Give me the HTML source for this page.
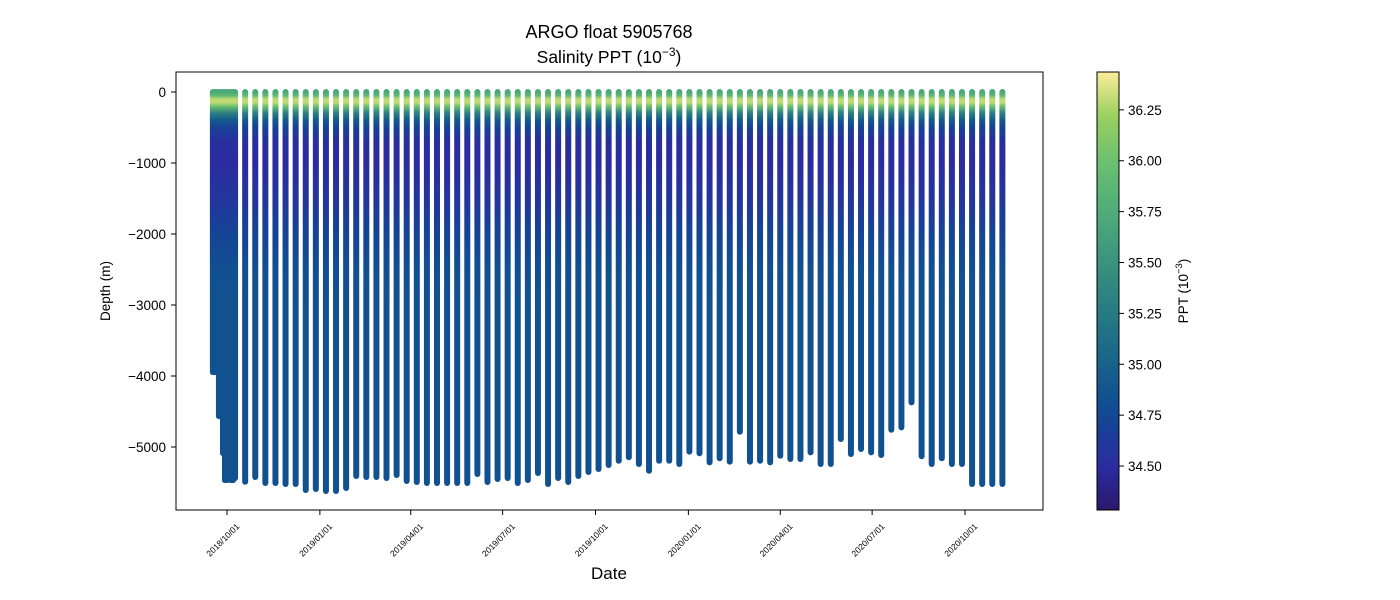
<!DOCTYPE html>
<html><head><meta charset="utf-8"><style>
body{margin:0;background:#fff;}
svg{display:block;font-family:"Liberation Sans","DejaVu Sans",sans-serif;}
</style></head><body>
<svg id="chart" width="1400" height="600" viewBox="0 0 1400 600">
<defs id="defs"></defs>
<g id="plot"></g>
</svg>
<script>
const profileDates=["2018-09-17","2018-09-19","2018-09-21","2018-09-23","2018-09-25","2018-09-27","2018-09-29","2018-10-01","2018-10-03","2018-10-05","2018-10-07","2018-10-09",
"2018-10-19","2018-10-29","2018-11-08","2018-11-18","2018-11-28","2018-12-08","2018-12-18","2018-12-28",
"2019-01-07","2019-01-17","2019-01-27","2019-02-06","2019-02-16","2019-02-26","2019-03-08","2019-03-18","2019-03-28","2019-04-07","2019-04-17","2019-04-27","2019-05-07","2019-05-17","2019-05-27","2019-06-06","2019-06-16","2019-06-26","2019-07-06","2019-07-16","2019-07-26","2019-08-05","2019-08-15","2019-08-25","2019-09-04","2019-09-14","2019-09-24","2019-10-04","2019-10-14","2019-10-24","2019-11-03","2019-11-13","2019-11-23","2019-12-03","2019-12-13","2019-12-23",
"2020-01-02","2020-01-12","2020-01-22","2020-02-01","2020-02-11","2020-02-21","2020-03-02","2020-03-12","2020-03-22","2020-04-01","2020-04-11","2020-04-21","2020-05-01","2020-05-11","2020-05-21","2020-05-31","2020-06-10","2020-06-20","2020-06-30","2020-07-10","2020-07-20","2020-07-30","2020-08-09","2020-08-19","2020-08-29","2020-09-08","2020-09-18","2020-09-28","2020-10-08","2020-10-18","2020-10-28","2020-11-07"];
const maxDepths=[3960,3960,3960,4580,4580,5100,5480,5480,5450,5480,5480,5450,
5503,5437,5521,5521,5535,5535,5620,5606,5634,5634,5592,5423,5437,5437,5451,5409,5493,5507,5521,5521,5521,5521,5521,5394,5507,5465,5451,5521,5479,5380,5535,5451,5507,5423,5366,5324,5268,5207,5159,5254,5348,5207,5207,5254,5080,5103,5230,5173,5221,4799,5221,5207,5230,5137,5183,5183,5089,5254,5254,4902,5113,5042,5089,5127,4771,4737,4385,5145,5254,5173,5254,5254,5535,5535,5535,5535];
const profDepth=[0,50,100,150,200,300,400,500,700,1000,1500,2000,2500,3000,6000];
const profSal=[35.7,35.9,36.3,36.3,36.0,35.3,34.9,34.7,34.52,34.5,34.58,34.72,34.82,34.84,34.84];
const yTicks=[0,-1000,-2000,-3000,-4000,-5000];
const xTicks=["2018-10-01","2019-01-01","2019-04-01","2019-07-01","2019-10-01","2020-01-01","2020-04-01","2020-07-01","2020-10-01"];
const xTickLabels=["2018/10/01","2019/01/01","2019/04/01","2019/07/01","2019/10/01","2020/01/01","2020/04/01","2020/07/01","2020/10/01"];
const cbTicks=[34.5,34.75,35.0,35.25,35.5,35.75,36.0,36.25];
const cbTickLabels=["34.50","34.75","35.00","35.25","35.50","35.75","36.00","36.25"];

const NS="http://www.w3.org/2000/svg";
const svg=document.getElementById('chart'),defs=document.getElementById('defs'),plot=document.getElementById('plot');
function mk(t,a,p){const e=document.createElementNS(NS,t);for(const k in a)e.setAttribute(k,a[k]);(p||plot).appendChild(e);return e;}
const L=176,R=1043,T=72,B=510;
const yPx=d=>92-d*0.071;
const d0=Date.parse("2018-10-01");
const xPx=s=>227+(Date.parse(s)-d0)/86400000*1.0096;
const cmap=[[0,[42,24,108]],[0.1,[43,44,160]],[0.23,[15,75,146]],[0.37,[28,107,136]],[0.5,[46,133,128]],[0.63,[70,162,124]],[0.77,[98,188,114]],[0.9,[154,208,96]],[1,[252,236,154]]];
const sMin=34.284,sMax=36.436;
function col(s){let t=(s-sMin)/(sMax-sMin);t=Math.max(0,Math.min(1,t));for(let i=1;i<cmap.length;i++){if(t<=cmap[i][0]){const a=cmap[i-1],b=cmap[i],f=(t-a[0])/(b[0]-a[0]);return 'rgb('+a[1].map((v,j)=>Math.round(v+(b[1][j]-v)*f)).join(',')+')';}}return 'rgb(252,236,154)';}
const g=mk('linearGradient',{id:'prof',gradientUnits:'userSpaceOnUse',x1:0,y1:yPx(0),x2:0,y2:yPx(-6000)},defs);
profDepth.forEach((d,i)=>mk('stop',{offset:d/6000,'stop-color':col(profSal[i])},g));
const cg=mk('linearGradient',{id:'cbar',x1:0,y1:1,x2:0,y2:0},defs);
for(let i=0;i<=20;i++){mk('stop',{offset:i/20,'stop-color':col(sMin+(sMax-sMin)*i/20)},cg);}
const frame=mk('rect',{x:L,y:T,width:R-L,height:B-T,fill:'none',stroke:'#000','stroke-width':1});

const pg=mk('g',{});
profileDates.forEach((d,i)=>{const x=xPx(d),y0=yPx(0)-3,y1=yPx(-maxDepths[i])+2;
 const r=mk('rect',{x:x-3,y:y0,width:6,height:y1-y0,rx:3,fill:'url(#prof)'},pg);
 
 });
yTicks.forEach(v=>{const y=yPx(v);mk('line',{x1:L-5,x2:L,y1:y,y2:y,stroke:'#000'});
 const t=mk('text',{x:L-10,y:y+5,'text-anchor':'end','font-size':13.5});t.textContent=(v<0?'\u2212'+(-v):v);
 });
xTicks.forEach((d,i)=>{const x=xPx(d);mk('line',{x1:x,x2:x,y1:B,y2:B+5,stroke:'#000'});
 const ax=x+13,ay=B+17;
 const t=mk('text',{x:ax,y:ay,'text-anchor':'end','font-size':8.5,transform:'rotate(-45 '+ax+' '+ay+')'});t.textContent=xTickLabels[i];
 });
let t=mk('text',{x:609,y:579,'text-anchor':'middle','font-size':17});t.textContent='Date';

t=mk('text',{x:110,y:291,'text-anchor':'middle','font-size':13.5,transform:'rotate(-90 110 291)'});t.textContent='Depth (m)';

t=mk('text',{x:609,y:38,'text-anchor':'middle','font-size':18});t.textContent='ARGO float 5905768';

t=mk('text',{x:609,y:63,'text-anchor':'middle','font-size':17.5});t.innerHTML='Salinity PPT (10<tspan dy="-7" font-size="12">\u22123</tspan><tspan dy="7">)</tspan>';

const cb=mk('rect',{x:1097,y:T,width:22,height:B-T,fill:'url(#cbar)',stroke:'#000','stroke-width':1});

const cy=s=>B-(s-sMin)/(sMax-sMin)*(B-T);
cbTicks.forEach((s,i)=>{const y=cy(s);mk('line',{x1:1119,x2:1124,y1:y,y2:y,stroke:'#000'});
 const tt=mk('text',{x:1128,y:y+5,'font-size':13.5});tt.textContent=cbTickLabels[i];
 });
t=mk('text',{x:1188,y:291,'text-anchor':'middle','font-size':13.5,transform:'rotate(-90 1188 291)'});t.innerHTML='PPT (10<tspan dy="-6" font-size="9.5">\u22123</tspan><tspan dy="6">)</tspan>';

</script>
</body></html>
